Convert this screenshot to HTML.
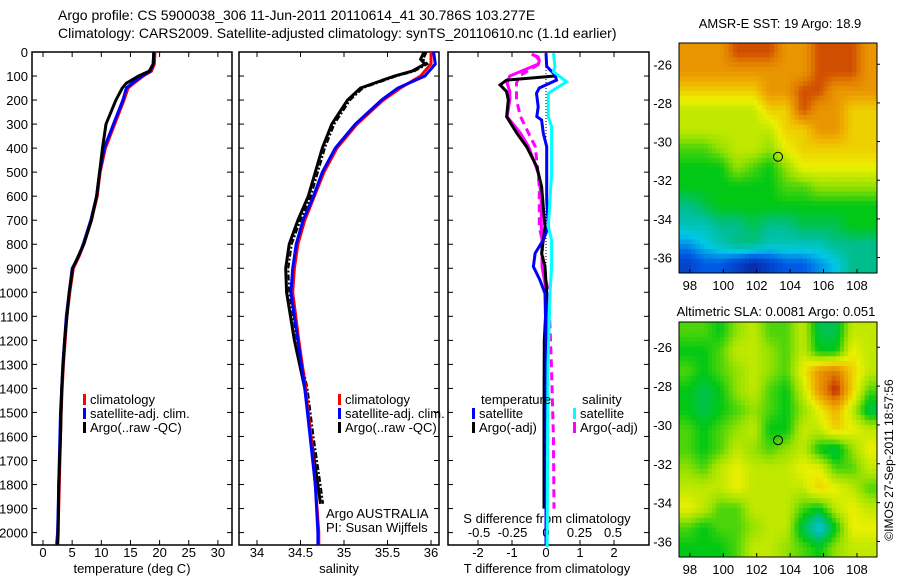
<!DOCTYPE html>
<html><head><meta charset="utf-8"><style>
html,body{margin:0;padding:0;background:#fff;width:900px;height:580px;overflow:hidden}
svg{display:block}
text{font-family:"Liberation Sans",sans-serif;font-size:13px;fill:#000}
</style></head><body>
<svg id="fig" width="900" height="580">
<text x="58" y="20" style="font-size:14px">Argo profile: CS 5900038_306 11-Jun-2011 20110614_41 30.786S 103.277E</text>
<text x="58" y="38" style="font-size:14px">Climatology: CARS2009. Satellite-adjusted climatology: synTS_20110610.nc (1.1d earlier)</text>
<text x="780" y="28" text-anchor="middle">AMSR-E SST: 19 Argo: 18.9</text>
<text x="776" y="316" text-anchor="middle">Altimetric SLA: 0.0081 Argo: 0.051</text>
<text transform="translate(893,460) rotate(-90)" text-anchor="middle" style="font-size:12px">©IMOS 27-Sep-2011 18:57:56</text>
</svg>
<script>
// ---- data ----
const tDepth = [0,50,80,100,130,150,200,300,400,500,600,700,800,850,900,1000,1100,1200,1300,1400,1500,1700,1900,2000,2050];
const tClim  = [19.2,19.1,18.6,17.2,15.6,14.6,13.9,12.3,10.7,9.8,9.3,8.3,7.0,6.2,5.2,4.6,4.1,3.8,3.5,3.3,3.1,2.9,2.7,2.5,2.3];
const tSat   = [19.0,18.9,18.4,17.0,15.3,14.3,13.7,12.1,10.5,9.7,9.2,8.2,6.9,6.1,5.0,4.5,4.0,3.7,3.4,3.2,3.0,2.8,2.6,2.5,2.5];
const tArgoDepth = [0,50,80,100,130,150,200,300,400,500,600,700,800,900,1000,1200,1400,1600,1800,2000,2050];
const tArgo  = [19.0,18.9,18.2,16.4,14.3,13.6,12.5,10.8,10.2,9.7,9.2,8.3,7.0,5.1,4.5,3.7,3.2,3.0,2.7,2.6,2.5];
const sDepth = [0,50,100,150,200,300,400,500,600,700,800,900,1000,1200,1400,1600,1800,2000,2050];
const sClim  = [36.00,36.00,35.88,35.65,35.45,35.15,34.92,34.77,34.66,34.55,34.47,34.43,34.41,34.48,34.56,34.62,34.67,34.71,34.71];
const sSat   = [36.03,36.05,35.93,35.62,35.43,35.13,34.90,34.75,34.65,34.53,34.45,34.41,34.39,34.47,34.55,34.61,34.67,34.70,34.70];
const sArgoDepth = [0,30,50,80,100,150,200,300,400,500,600,700,800,900,1000,1200,1400,1600,1800,1880];
const sArgo  = [35.92,35.88,35.93,35.78,35.58,35.19,35.04,34.86,34.75,34.67,34.59,34.47,34.37,34.33,34.34,34.43,34.55,34.62,34.70,34.73];
const dDepthBlue = [5,60,96,117,150,172,228,269,283,338,394,505,616,727,782,838,893,949,1004,1200,1500,1800,2050];
const dTsat = [0,0.02,0.27,0.31,-0.2,-0.28,-0.23,-0.27,-0.13,-0.08,0.02,0.02,0.02,0.07,-0.08,-0.32,-0.37,-0.18,-0.03,0,0,0,0];
const dDepthCyan = [5,60,82,124,158,172,270,310,394,505,616,727,782,893,1004,1300,1600,1900,2060];
const dSsat = [0.055,0.067,0.055,0.154,0.055,0.017,0.017,0.042,0.042,0.042,0.03,0.017,0.042,0.042,0.03,0.015,0.012,0.01,0.008];
const dDepthArgoT = [95,100,117,137,165,200,269,338,394,477,560,644,727,782,838,893,1004,1200,1500,1900];
const dTargo = [0.25,0.26,-1.16,-1.35,-1.16,-1.11,-1.16,-0.86,-0.57,-0.27,-0.13,-0.08,-0.03,-0.08,-0.13,-0.03,0.02,-0.05,-0.06,-0.06];
const dDepthArgoS = [10,20,35,50,100,130,165,200,269,338,394,505,560,616,727,782,893,1004,1300,1600,1900];
const dSargo = [-0.107,-0.06,-0.05,-0.057,-0.27,-0.29,-0.27,-0.27,-0.29,-0.19,-0.13,-0.057,-0.045,-0.035,-0.035,-0.03,-0.03,0.006,0.005,0.005,0.005];
const dSargoDash = [-0.1,-0.07,-0.05,-0.05,-0.2,-0.22,-0.22,-0.22,-0.19,-0.13,-0.08,-0.06,-0.05,-0.05,-0.05,-0.03,-0.02,0.02,0.04,0.055,0.06];
const tTicks = [0,5,10,15,20,25,30];
const sTicks = [34,34.5,35,35.5,36];
const dTTicks = [-2,-1,0,1,2];
const dSTicks = [-0.5,-0.25,0,0.25,0.5];
const depthTicks = [0,100,200,300,400,500,600,700,800,900,1000,1100,1200,1300,1400,1500,1600,1700,1800,1900,2000];
const lonTicks = [98,100,102,104,106,108];
const latTicks = [-26,-28,-30,-32,-34,-36];
const argoLon = 103.277, argoLat = -30.786;
const sstGrid = [
[8,8,8,9,9,9,8,8,9,9,9,8],
[8,8,8,8,8,8,8,8,9,9,9,8],
[7,7,7,7,7,8,8,9,9,8,8,8],
[6,6,6,6,6,7,7,9,8,8,7,7],
[6,6,6,6,6,6,7,7,8,8,7,7],
[5,5,5.5,6,6,5.5,6.5,7,7,7,7,7],
[4.5,4.5,4.5,5.5,5,4.5,5.5,6.5,6.5,6.5,6.5,6.5],
[4.5,4.5,4.5,4.5,4.5,4.5,5,5,5.5,5.5,5.5,5.5],
[3.5,4,4.5,4.5,4.5,4.5,4.5,4.5,4.5,4.5,4.5,4.5],
[3,3,3.5,3.5,4,3.5,3.5,4,4,4,4.5,4.5],
[2,2.5,3,3.5,3.5,3,3,3,3,3.5,3.5,3.5],
[1,1.5,1.5,1,0.5,1,1.5,1.5,2,2.5,3.5,3.5]];
const slaGrid = [
[5,5,4.5,5.5,6,5,5,6,4,4,6,6],
[4.5,4.5,5,6,6,5.5,5,6,4.5,4.5,6.5,6],
[5,4.5,5,5.5,6,5.5,5,6.5,8,8.5,7,6],
[4.5,4,4.5,5.5,6,5,4.5,6,8,9.5,7,5],
[4.5,4,4.5,5,5.5,5,4.5,5.5,6.5,7.5,6,4],
[5,4.5,5,5.5,6,4.5,4.5,6,6,7,6.5,6],
[5,4.5,5,6,5.5,5,5.5,6,4.5,4,5.5,6.5],
[5.5,5,6,6.5,6,6,6,6.5,6.5,5,5,6],
[6,6,6,6.5,6,6,6,6,7,6.5,6,5],
[6.5,6,5,5,6,6,6,5,4.5,6,6.5,6],
[5,4.5,5,5,5.5,6,6,4,2.5,4.5,6.5,6.5],
[4.5,4.5,4.5,5,6,6,5.5,5,4.5,5.5,6,6]];

// ---- helpers ----
const NS='http://www.w3.org/2000/svg';
const svg=document.getElementById('fig');
function mk(tag,attrs,parent){const e=document.createElementNS(NS,tag);for(const k in attrs)e.setAttribute(k,attrs[k]);(parent||svg).appendChild(e);return e;}
const top0=52, bot0=545;
const yD=d=>top0+d*0.2403;
const xT=t=>43+t*5.83;
const xS=s=>257+(s-34)*87;
const xDT=v=>546+v*34;
const xDS=v=>546+v*134;

function panel(x0,x1,name){
  const r=mk('rect',{x:x0,y:top0,width:x1-x0,height:bot0-top0,fill:'none',stroke:'#000','stroke-width':1.5});
  
  
  depthTicks.forEach(d=>{mk('line',{x1:x0,x2:x0+5,y1:yD(d),y2:yD(d),stroke:'#000'});mk('line',{x1:x1,x2:x1-5,y1:yD(d),y2:yD(d),stroke:'#000'});});
}
function line(xs,ds,fx,color,name,dash,w){
  const p=xs.map((v,i)=>fx(v).toFixed(1)+','+yD(ds[i]).toFixed(1)).join(' ');
  const e=mk('polyline',{points:p,fill:'none',stroke:color,'stroke-width':w||3,'stroke-linejoin':'miter'});
  if(dash)e.setAttribute('stroke-dasharray',dash);
  
  
}
function txt(x,y,s,anchor,name,size){
  const e=mk('text',{x:x,y:y,'text-anchor':anchor||'start'});e.textContent=s;
  if(size)e.style.fontSize=size+'px';
  
  
  return e;
}
function xTicks(ticks,fx,y,name,labelY){
  ticks.forEach(t=>{mk('line',{x1:fx(t),x2:fx(t),y1:bot0,y2:bot0-5,stroke:'#000'});mk('line',{x1:fx(t),x2:fx(t),y1:top0,y2:top0+5,stroke:'#000'});
    txt(fx(t),labelY,String(t),'middle',name);});
}

panel(32,232,'temperature-panel');
panel(239,439,'salinity-panel');
panel(448,649,'difference-panel');
depthTicks.forEach(d=>txt(28,yD(d)+5,String(d),'end','depth-tick-label'));
xTicks(tTicks,xT,0,'temperature-tick-label',557);
xTicks(sTicks,xS,0,'salinity-tick-label',557);
xTicks(dTTicks,xDT,0,'t-diff-tick-label',557);
dSTicks.forEach(t=>txt(xDS(t),537,String(t),'middle','s-diff-tick-label'));
txt(132,573,'temperature (deg C)','middle','temperature-axis-title');
txt(339,573,'salinity','middle','salinity-axis-title');
txt(547,573,'T difference from climatology','middle','t-diff-axis-title');
txt(547,523,'S difference from climatology','middle','s-diff-axis-title');

line(tClim,tDepth,xT,'#ff0000','temperature-climatology-line');
line(tSat,tDepth,xT,'#0000ff','temperature-satellite-line');
line(tArgo,tArgoDepth,xT,'#000000','temperature-argo-line');
line(sArgo.map(v=>v+0.03),sArgoDepth,xS,'#000000','salinity-argo-raw-line','6,2,2,2',2);
line(sArgo,sArgoDepth,xS,'#000000','salinity-argo-line');
line(sClim,sDepth,xS,'#ff0000','salinity-climatology-line');
line(sSat,sDepth,xS,'#0000ff','salinity-satellite-line');
mk('line',{x1:546,x2:546,y1:top0,y2:bot0,stroke:'#000','stroke-dasharray':'1,2'});
line(dSargoDash,dDepthArgoS,xDS,'#ff00ff','salinity-argo-diff-dashed','8,5');
line(dSargo,dDepthArgoS,xDS,'#ff00ff','salinity-argo-diff-line');
line(dTargo,dDepthArgoT,xDT,'#000000','temperature-argo-diff-line');
line(dTsat,dDepthBlue,xDT,'#0000ff','temperature-satellite-diff-line');
line(dSsat,dDepthCyan,xDS,'#00ffff','salinity-satellite-diff-line');

function leg(x,y,color,label,name){
  const g=mk('g',{});
  mk('rect',{x:x,y:y-10,width:3,height:11,fill:color},g);
  const t=mk('text',{x:x+7,y:y},g);t.textContent=label;
}
leg(83,404,'#ff0000','climatology','legend-climatology');
leg(83,418,'#0000ff','satellite-adj. clim.','legend-satellite');
leg(83,432,'#000000','Argo(..raw -QC)','legend-argo');
leg(338,404,'#ff0000','climatology','legend-climatology-s');
leg(338,418,'#0000ff','satellite-adj. clim.','legend-satellite-s');
leg(338,432,'#000000','Argo(..raw -QC)','legend-argo-s');
txt(481,404,'temperature','start','legend-temperature-heading');
txt(582,404,'salinity','start','legend-salinity-heading');
leg(472,418,'#0000ff','satellite','legend-t-satellite');
leg(472,432,'#000000','Argo(-adj)','legend-t-argo');
leg(573,418,'#00ffff','satellite','legend-s-satellite');
leg(573,432,'#ff00ff','Argo(-adj)','legend-s-argo');
txt(326,518,'Argo AUSTRALIA','start','argo-australia-label');
txt(326,532,'PI: Susan Wijffels','start','pi-label');

const stops=[[0,[10,20,140]],[1.5,[0,90,230]],[2.5,[0,200,230]],[3.5,[0,190,140]],[4.5,[0,200,20]],[5.5,[150,225,0]],[6.5,[235,240,0]],[7.5,[240,175,0]],[8.5,[225,125,0]],[9.5,[190,30,0]],[10,[150,10,10]]];
function cmap(v){for(let i=1;i<stops.length;i++){if(v<=stops[i][0]){const a=stops[i-1],b=stops[i];const f=Math.max(0,(v-a[0])/(b[0]-a[0]));return 'rgb('+a[1].map((c,k)=>Math.round(c+f*(b[1][k]-c))).join(',')+')';}}return 'rgb(150,10,10)';}
function sample(grid,fr,fc){
  const R=grid.length,C=grid[0].length;
  fr=Math.min(Math.max(fr,0),R-1);fc=Math.min(Math.max(fc,0),C-1);
  const r0=Math.floor(fr),c0=Math.floor(fc),r1=Math.min(r0+1,R-1),c1=Math.min(c0+1,C-1);
  const a=fr-r0,b=fc-c0;
  return (grid[r0][c0]*(1-b)+grid[r0][c1]*b)*(1-a)+(grid[r1][c0]*(1-b)+grid[r1][c1]*b)*a;
}
function map(grid,y0,y1,latTop,latBot,name){
  const x0=679,x1=877,lonL=97.35,lonR=109.2;
  const fx=l=>x0+(l-lonL)/(lonR-lonL)*(x1-x0);
  const fy=l=>y0+(latTop-l)/(latTop-latBot)*(y1-y0);
  const g=mk('g',{});
  const R=grid.length,C=grid[0].length,K=4,cw=(x1-x0)/(C*K),ch=(y1-y0)/(R*K);
  for(let r=0;r<R*K;r++)for(let c=0;c<C*K;c++){
    const v=sample(grid,(r+0.5)/K-0.5,(c+0.5)/K-0.5);
    const cell=mk('rect',{x:(x0+c*cw).toFixed(2),y:(y0+r*ch).toFixed(2),width:(cw+0.5).toFixed(2),height:(ch+0.5).toFixed(2),fill:cmap(v)},g);
    
    
  }
  mk('rect',{x:x0,y:y0,width:x1-x0,height:y1-y0,fill:'none',stroke:'#000'});
  lonTicks.forEach(l=>{mk('line',{x1:fx(l),x2:fx(l),y1:y1,y2:y1-4,stroke:'#000'});txt(fx(l),y1+17,String(l),'middle','lon-tick-label');});
  latTicks.forEach(l=>{mk('line',{x1:x1,x2:x1+3,y1:fy(l),y2:fy(l),stroke:'#000'});txt(672,fy(l)+5,String(l),'end','lat-tick-label');});
  const c=mk('circle',{cx:fx(argoLon),cy:fy(argoLat),r:4.5,fill:'none',stroke:'#000'});
  
  
}
map(sstGrid,43,273,-24.9,-36.8,'sst-map');
map(slaGrid,322,557,-24.7,-36.8,'sla-map');
</script>
</body></html>
